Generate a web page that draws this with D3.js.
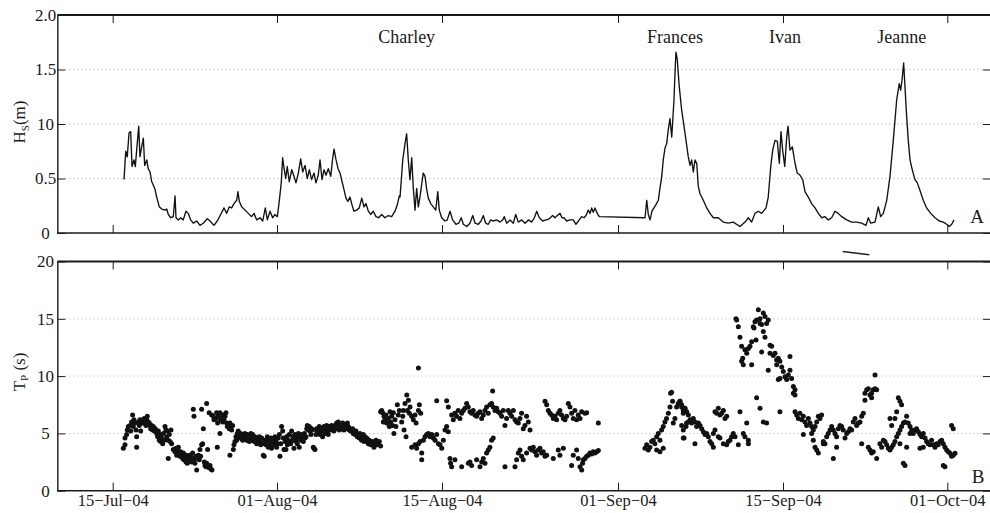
<!DOCTYPE html>
<html>
<head>
<meta charset="utf-8">
<script src="https://cdn.jsdelivr.net/npm/d3@7"></script>
<style>
  body { margin: 0; background: #fff; }
  svg { display: block; font-family: "Liberation Serif", "DejaVu Serif", serif; }
</style>
</head>
<body>
<svg id="chart" width="990" height="513"></svg>
<script>
// days are counted from 30-Jun-2004, so 15 = 15-Jul-04, 32 = 01-Aug-04, 93 = 01-Oct-04
var tickDays = [15, 32, 46, 63, 77, 93];

var hsTicks = [0, 0.5, 1.0, 1.5, 2.0];
var hsTickLabels = ["0", "0.5", "10", "1.5", "2.0"];
var tpTicks = [0, 5, 10, 15, 20];
var tpTickLabels = ["0", "5", "10", "15", "20"];

var stormNames = ["Charley", "Frances", "Ivan", "Jeanne"];
var stormDays = [43.0, 67.84, 77.19, 88.56];

// significant wave height, [day, m]
var hs = [
  [16.17,0.49],[16.35,0.75],[16.51,0.70],[16.69,0.92],[16.86,0.93],[17.00,0.61],[17.20,0.67],[17.34,0.61],
  [17.48,0.76],[17.69,0.98],[17.82,0.70],[18.00,0.79],[18.17,0.87],[18.31,0.62],[18.52,0.67],[18.68,0.59],
  [18.86,0.56],[19.04,0.47],[19.20,0.44],[19.38,0.40],[19.55,0.33],[19.82,0.24],[20.07,0.22],[20.41,0.21],
  [20.59,0.22],[20.75,0.17],[21.00,0.14],[21.27,0.15],[21.45,0.34],[21.55,0.14],[21.79,0.12],[22.04,0.14],
  [22.30,0.12],[22.58,0.20],[22.82,0.18],[23.07,0.12],[23.34,0.09],[23.69,0.11],[24.03,0.07],[24.37,0.09],
  [24.79,0.13],[25.07,0.11],[25.48,0.07],[25.82,0.11],[26.17,0.17],[26.52,0.23],[26.80,0.18],[27.06,0.24],
  [27.31,0.23],[27.55,0.27],[27.83,0.30],[27.96,0.38],[28.10,0.29],[28.35,0.24],[28.69,0.21],[29.03,0.18],
  [29.38,0.15],[29.62,0.18],[29.90,0.12],[30.24,0.14],[30.52,0.11],[30.79,0.23],[31.00,0.12],[31.28,0.20],
  [31.55,0.14],[31.79,0.17],[32.03,0.15],[32.20,0.30],[32.36,0.46],[32.48,0.69],[32.59,0.60],[32.74,0.50],
  [32.87,0.61],[33.04,0.47],[33.25,0.58],[33.44,0.52],[33.61,0.46],[33.81,0.55],[34.01,0.68],[34.18,0.56],
  [34.38,0.62],[34.57,0.50],[34.74,0.58],[34.94,0.49],[35.14,0.55],[35.31,0.46],[35.50,0.53],[35.65,0.67],
  [35.82,0.49],[35.99,0.58],[36.16,0.53],[36.35,0.59],[36.56,0.52],[36.73,0.69],[36.84,0.77],[37.01,0.67],
  [37.18,0.59],[37.35,0.55],[37.52,0.47],[37.68,0.40],[37.85,0.32],[38.02,0.29],[38.19,0.33],[38.36,0.26],
  [38.53,0.20],[38.76,0.21],[38.98,0.23],[39.19,0.32],[39.38,0.24],[39.55,0.27],[39.75,0.20],[39.95,0.17],
  [40.17,0.20],[40.40,0.15],[40.63,0.14],[40.88,0.17],[41.16,0.14],[41.44,0.16],[41.73,0.15],[42.01,0.20],
  [42.21,0.26],[42.38,0.34],[42.44,0.33],[42.67,0.67],[42.86,0.82],[43.00,0.91],[43.14,0.67],[43.28,0.49],
  [43.43,0.69],[43.56,0.42],[43.71,0.21],[43.85,0.41],[43.99,0.24],[44.13,0.33],[44.28,0.45],[44.41,0.55],
  [44.56,0.52],[44.70,0.40],[44.84,0.32],[45.04,0.27],[45.26,0.24],[45.47,0.21],[45.64,0.38],[45.77,0.21],
  [45.97,0.14],[46.29,0.11],[46.51,0.12],[46.77,0.20],[47.03,0.12],[47.35,0.08],[47.61,0.09],[47.86,0.14],
  [48.06,0.08],[48.39,0.06],[48.70,0.09],[48.97,0.16],[49.19,0.09],[49.51,0.08],[49.77,0.11],[49.99,0.16],
  [50.22,0.09],[50.47,0.08],[50.70,0.12],[50.96,0.11],[51.28,0.12],[51.60,0.10],[51.86,0.12],[52.02,0.15],
  [52.25,0.09],[52.57,0.12],[52.89,0.09],[53.12,0.17],[53.37,0.10],[53.70,0.12],[54.02,0.09],[54.34,0.12],
  [54.66,0.10],[54.92,0.14],[55.15,0.20],[55.40,0.14],[55.73,0.11],[56.05,0.12],[56.36,0.13],[56.69,0.16],
  [56.91,0.14],[57.14,0.16],[57.40,0.18],[57.59,0.14],[57.78,0.14],[58.04,0.11],[58.36,0.12],[58.68,0.12],
  [58.94,0.08],[59.26,0.12],[59.49,0.15],[59.72,0.14],[59.91,0.16],[60.13,0.21],[60.30,0.18],[60.46,0.23],
  [60.61,0.19],[60.78,0.23],[61.00,0.18],[61.19,0.15],[65.29,0.14],[65.44,0.30],[65.57,0.17],[65.72,0.12],
  [65.88,0.20],[66.05,0.23],[66.22,0.26],[66.42,0.30],[66.56,0.41],[66.71,0.52],[66.84,0.67],[66.99,0.78],
  [67.13,0.82],[67.27,0.95],[67.41,1.05],[67.56,0.88],[67.75,1.22],[67.86,1.53],[67.92,1.66],[68.03,1.59],
  [68.20,1.34],[68.40,1.13],[68.60,0.98],[68.77,0.85],[68.96,0.70],[69.11,0.62],[69.25,0.67],[69.39,0.56],
  [69.53,0.67],[69.68,0.64],[69.81,0.43],[69.96,0.36],[70.24,0.30],[70.53,0.23],[70.81,0.18],[71.09,0.14],
  [71.51,0.14],[71.93,0.10],[72.36,0.09],[72.78,0.10],[73.35,0.06],[73.78,0.10],[74.06,0.14],[74.34,0.10],
  [74.62,0.18],[74.90,0.20],[75.19,0.18],[75.56,0.23],[75.75,0.33],[75.96,0.61],[76.13,0.76],[76.32,0.85],
  [76.52,0.84],[76.69,0.64],[76.83,0.93],[76.97,0.76],[77.17,0.61],[77.36,0.88],[77.49,0.98],[77.68,0.76],
  [77.91,0.79],[78.17,0.64],[78.39,0.55],[78.66,0.53],[78.92,0.49],[79.14,0.38],[79.46,0.33],[79.79,0.27],
  [80.12,0.23],[80.44,0.18],[80.77,0.14],[81.09,0.15],[81.41,0.12],[81.74,0.14],[82.06,0.20],[82.38,0.18],
  [82.72,0.15],[83.20,0.12],[83.69,0.10],[84.18,0.10],[84.66,0.09],[85.08,0.07],[85.31,0.14],[85.54,0.09],
  [85.96,0.10],[86.28,0.24],[86.51,0.15],[86.77,0.18],[87.10,0.30],[87.42,0.52],[87.74,0.85],[88.07,1.22],
  [88.32,1.37],[88.46,1.31],[88.59,1.40],[88.75,1.56],[88.88,1.34],[89.04,1.07],[89.20,0.85],[89.37,0.67],
  [89.59,0.58],[89.85,0.49],[90.08,0.46],[90.34,0.39],[90.66,0.30],[90.99,0.23],[91.38,0.18],[91.80,0.14],
  [92.22,0.11],[92.61,0.10],[92.94,0.08],[93.19,0.06],[93.43,0.08],[93.65,0.12]
];

// short stray stroke that sits just under panel A in the original
var hsStray = [[82.81,-0.17],[85.40,-0.20]];

// peak period, [day, s]
var tp = [
  [16.10,3.7],[16.27,4.0],[16.27,4.6],[16.44,4.9],[16.51,5.3],[16.62,5.6],[16.79,5.7],[16.86,5.2],[16.96,6.0],
  [17.06,6.6],[17.13,5.6],[17.20,6.2],[17.31,5.9],[17.41,5.3],[17.48,4.7],[17.48,3.8],[17.65,6.0],[17.75,5.7],
  [17.82,6.2],[17.89,5.2],[17.98,5.9],[18.10,6.2],[18.17,5.9],[18.27,6.3],[18.34,6.0],[18.44,5.7],[18.51,6.2],
  [18.58,6.5],[18.69,6.0],[18.79,5.9],[18.86,5.7],[18.93,5.4],[19.03,5.7],[19.13,5.3],[19.20,5.6],[19.31,5.2],
  [19.41,5.4],[19.55,5.0],[19.65,4.7],[19.72,5.2],[19.82,4.4],[19.89,4.9],[19.96,4.3],[20.06,4.6],[20.17,4.1],
  [20.24,5.0],[20.34,4.4],[20.41,5.6],[20.51,5.3],[20.58,4.7],[20.65,5.2],[20.75,4.4],[20.86,4.9],[20.93,4.3],
  [21.03,5.3],[21.10,4.1],[20.75,2.8],
  [21.27,3.6],[21.44,3.4],[21.55,3.7],[21.62,3.1],[21.72,3.6],[21.79,3.8],[21.89,3.3],[21.96,3.0],[22.03,3.4],
  [22.13,3.1],[22.24,2.8],[22.31,3.3],[22.38,2.7],[22.48,3.0],[22.58,2.5],[22.65,3.1],[22.72,2.4],[22.82,2.8],
  [22.93,2.7],[23.00,3.1],[23.10,3.0],[23.17,2.5],[23.27,3.3],[23.34,2.7],[23.44,2.8],[23.51,2.4],[23.62,3.0],
  [23.69,1.8],[23.75,2.8],[23.86,3.1],[23.96,2.7],[24.03,3.6],[24.10,3.0],[24.20,4.0],[24.31,4.1],[24.38,5.4],
  [24.48,2.5],[24.55,2.2],[24.65,2.1],[24.72,2.4],[24.82,3.6],[24.89,2.1],[24.98,2.0],[25.07,2.2],[25.17,1.9],
  [25.27,1.8],
  [23.34,7.1],[23.41,6.5],[24.20,7.1],[24.72,7.6],[24.98,6.8],[25.24,6.6],[25.41,6.5],[25.48,6.2],[25.69,6.3],
  [25.75,6.8],[25.86,5.9],[25.93,6.5],[26.10,6.8],[26.17,6.2],[26.27,6.3],[26.38,6.0],[26.44,6.6],[26.51,6.2],
  [26.62,6.5],[26.72,6.8],[26.79,5.9],[26.86,5.6],[26.96,5.7],[27.06,5.4],[27.13,5.9],[27.20,5.6],[27.31,5.3],
  [27.41,5.7],[25.82,3.8],[26.10,5.0],[27.13,3.1],
  [27.48,3.6],[27.55,4.0],[27.65,4.3],[27.75,4.7],[27.82,4.4],[27.89,5.0],[27.99,5.2],[28.10,4.9],[28.17,4.6],
  [28.23,5.0],[28.34,4.7],[28.44,4.4],[28.51,4.9],[28.61,4.6],[28.68,5.0],[28.79,4.7],[28.86,4.4],[28.92,4.9],
  [29.03,4.6],[29.13,4.3],[29.20,4.7],[29.30,5.0],[29.37,4.4],[29.48,4.9],[29.55,4.6],[29.65,4.3],[29.72,4.7],
  [29.82,4.4],[29.89,4.1],[29.96,4.6],[30.06,4.3],[30.17,4.7],[30.24,4.4],[30.31,4.0],[30.41,4.6],[30.51,4.1],
  [30.58,3.1],[30.68,3.0],[30.75,4.4],[30.86,4.0],[30.93,4.3],[31.00,4.7],[31.10,3.8],[31.20,4.4],[31.27,4.1],
  [31.37,4.6],[31.44,3.7],[31.55,4.3],[31.61,4.0],[31.68,4.4],[31.79,4.7],[31.89,4.3],[31.96,3.8],
  [32.03,4.1],[32.11,4.6],[32.20,4.9],[32.25,3.0],[32.31,4.1],[32.39,5.6],[32.48,5.2],[32.54,4.6],[32.59,3.6],
  [32.68,4.3],[32.76,3.6],[32.82,4.7],[32.88,4.0],[32.96,4.4],[33.04,4.9],[33.10,4.3],[33.16,4.1],[33.24,5.2],
  [33.33,4.7],[33.38,4.4],[33.44,3.7],[33.53,4.9],[33.61,4.3],[33.67,4.6],[33.72,4.1],[33.81,5.0],[33.89,3.8],
  [33.95,4.7],[34.01,4.4],[34.09,4.9],[34.18,4.6],[34.23,4.3],[34.32,5.0],[34.37,4.6],[34.46,4.7],[34.52,5.4],
  [34.57,5.7],[34.66,5.3],[34.74,5.6],[34.80,5.2],[34.88,4.9],[34.94,5.4],[35.02,5.3],[35.08,3.8],[35.14,3.7],
  [35.22,3.6],[35.31,4.9],[35.36,5.4],[35.42,5.2],[35.51,5.3],[35.59,5.6],[35.65,4.9],[35.70,5.2],[35.79,5.4],
  [35.87,4.7],[35.93,5.2],[35.99,5.6],[36.07,5.0],[36.16,5.3],[36.21,5.7],[36.27,5.2],[36.35,4.9],[36.44,5.4],
  [36.50,5.6],[36.55,5.3],[36.64,5.7],[36.72,5.4],[36.78,5.6],[36.83,5.2],[36.92,5.7],[37.00,5.4],[37.06,5.9],
  [37.12,5.6],[37.20,6.0],[37.29,5.3],[37.34,5.6],[37.40,5.7],[37.48,5.4],[37.57,5.9],[37.63,5.6],[37.68,5.3],
  [37.77,5.7],[37.85,5.6],[37.91,5.4],[37.97,5.9],[38.05,5.6],[38.14,5.3],[38.19,5.4],[38.25,5.2],[38.33,5.3],
  [38.42,5.4],[38.47,5.0],[38.53,5.2],[38.62,4.9],[38.70,5.2],[38.76,5.0],[38.81,4.7],[38.90,4.9],[38.98,4.6],
  [39.04,5.0],[39.10,4.7],[39.18,4.4],[39.27,4.6],[39.32,4.9],[39.38,4.3],[39.46,4.7],[39.55,4.4],[39.61,4.6],
  [39.66,4.3],[39.75,4.1],[39.83,4.4],[39.89,4.3],[39.95,4.0],[40.03,4.1],[40.11,4.3],[40.17,4.0],[40.23,3.8],
  [40.31,4.1],[40.40,4.4],[40.45,4.0],[40.54,4.1],[40.68,4.3],[40.79,3.9],
  [40.79,6.9],[40.88,7.0],[40.96,6.8],[41.02,6.0],[41.08,6.5],[41.16,6.2],[41.25,6.6],[41.30,5.9],[41.44,6.3],
  [41.53,5.6],[41.59,6.9],[41.64,6.0],[41.73,6.5],[41.81,5.7],[41.87,6.8],[41.92,5.0],[42.01,6.2],[42.09,5.6],
  [42.21,7.5],[42.29,6.6],[42.38,7.0],
  [44.00,10.7],[43.01,8.35],[42.86,7.6],[43.15,7.9],[43.06,7.0],[43.23,6.75],[43.29,7.3],[43.43,6.5],[43.57,6.2],
  [43.71,6.6],[43.80,5.9],[44.00,7.0],[44.08,7.5],[44.19,6.75],[42.67,6.5],[42.58,6.0],[42.78,5.3],[42.95,4.7],
  [42.72,7.0],
  [43.43,3.8],[43.71,4.0],[43.85,3.7],[44.00,4.1],[44.14,4.3],[44.28,3.3],[44.28,2.7],[44.42,4.4],[44.56,4.7],
  [44.70,4.9],[44.84,5.0],[44.99,4.7],[45.13,4.9],[45.27,4.6],[45.41,4.4],[45.55,4.9],[45.69,4.1],[45.83,4.0],
  [45.98,3.7],[46.13,4.4],[46.29,5.3],[46.45,5.6],[46.61,5.15],[45.55,7.85],[46.45,7.85],[46.61,7.3],
  [46.93,6.6],[47.09,6.2],[47.25,6.75],[47.41,6.5],[47.57,7.0],[47.73,6.3],[47.90,6.75],[48.06,7.0],[48.22,7.2],
  [48.38,7.6],[48.54,7.3],[48.70,6.9],[48.86,6.75],[49.02,7.0],[49.18,6.6],[49.34,6.5],[49.51,6.75],[49.67,6.9],
  [49.83,6.3],[49.99,6.6],[50.15,7.0],[50.31,7.3],[50.47,6.75],[50.63,7.5],[50.79,7.6],[50.89,8.7],[50.95,7.3],
  [51.12,7.0],[51.28,7.2],[51.44,6.9],[51.60,6.75],[51.76,6.5],[51.92,7.0],[52.08,5.7],[52.24,6.3],[52.40,7.0],
  [52.56,6.75],[52.73,6.5],[52.89,7.0],[53.05,6.2],[53.21,6.0],[53.37,5.9],[53.53,6.3],[53.69,6.75],[53.85,5.4],
  [54.01,5.7],[54.17,6.5],[54.34,6.0],[54.50,5.3],
  [46.77,2.8],[46.83,2.4],[46.93,2.1],[47.25,2.7],[47.90,2.1],[48.54,2.4],[48.70,2.5],[48.86,2.2],[49.34,2.7],
  [49.67,2.1],[49.83,2.5],[49.99,2.8],[50.15,2.4],[50.31,3.3],[50.47,3.55],[50.63,3.8],[50.79,4.4],[50.95,4.6],
  [52.08,2.1],[53.05,2.1],[53.21,2.7],[53.37,3.3],[53.53,3.55],[53.69,3.0],[53.85,2.7],[54.17,3.3],[54.50,3.7],
  [54.66,3.55],[54.82,3.8],[54.98,3.4],[55.14,3.1],[55.30,3.55],[55.46,3.7],[55.62,3.3],[55.78,3.4],[55.95,3.0],
  [56.11,3.1],[56.75,2.8],[57.23,3.55],[57.39,3.1],[57.72,3.7],[58.52,2.2],[58.68,3.1],[59.00,3.55],[59.16,2.8],
  [59.33,2.1],[59.49,1.8],[59.58,2.4],[59.65,2.7],[59.81,2.8],[59.97,3.0],[60.13,3.1],[60.29,3.3],[60.45,3.2],
  [60.61,3.4],[60.77,3.3],[60.94,3.4],[61.10,3.5],
  [55.95,7.8],[56.11,7.5],[56.27,7.0],[56.43,6.75],[56.59,6.6],[56.75,6.3],[56.91,6.5],[57.07,6.2],[57.23,6.75],
  [57.39,7.0],[57.55,6.6],[57.72,6.3],[57.88,6.2],[58.04,6.5],[58.20,7.6],[58.36,7.3],[58.52,6.75],[58.68,6.3],
  [58.84,7.0],[59.00,6.2],[59.16,6.6],[59.33,6.3],[59.49,6.9],[59.81,6.75],[59.97,6.8],[61.10,5.9],
  [65.29,3.7],[65.43,4.0],[65.57,3.55],[65.71,3.8],[65.85,4.3],[65.99,4.4],[66.13,4.1],[66.28,4.7],[66.42,5.0],
  [66.56,4.4],[66.70,5.3],[66.84,5.6],[66.98,6.0],[67.12,6.3],[67.27,6.75],[67.41,7.3],[67.46,8.5],[67.55,8.6],
  [67.63,7.8],[67.69,5.9],[67.83,6.3],[67.97,7.3],[68.11,7.6],[68.26,7.8],[68.40,7.3],[68.54,6.75],[68.68,7.2],
  [68.82,5.9],[68.54,4.6],[66.84,3.7],[66.56,3.4],[66.28,3.55],
  [68.26,7.8],[68.40,7.5],[68.54,7.0],[68.68,7.2],[68.83,6.9],[68.97,6.6],[68.40,5.7],[68.54,5.3],[68.60,4.6],
  [68.77,5.6],[68.97,6.0],[69.11,6.2],[69.25,5.9],[69.39,6.3],[69.53,6.0],[69.67,5.6],[69.82,5.9],[69.53,4.1],
  [69.96,5.7],[70.10,5.4],[70.24,5.15],[70.38,4.9],[70.52,5.0],[70.66,4.7],[70.81,4.3],[70.95,4.1],[71.09,3.8],
  [71.09,5.0],[71.23,5.3],[71.23,6.9],[71.37,6.75],[71.51,7.2],[71.65,6.6],[71.80,6.75],[71.94,7.0],[72.08,6.3],
  [72.22,6.5],[71.51,4.7],[71.65,4.6],[71.94,4.1],[72.22,4.0],[72.36,4.3],[72.50,4.4],[72.64,4.7],[72.78,5.0],
  [72.93,4.7],[73.21,4.0],[73.35,6.9],[73.63,5.0],[73.77,4.7],[73.92,5.9],[74.06,4.4],[74.06,4.1],
  [73.01,15.0],[73.07,14.9],[73.21,14.3],[73.35,13.4],[73.49,12.6],[73.49,11.3],[73.63,11.0],[73.58,11.55],
  [73.77,12.3],[73.92,12.0],[74.06,12.4],[74.20,12.6],[74.34,11.0],[74.34,13.0],[74.48,14.3],[74.54,14.2],
  [74.62,14.75],[74.71,13.15],[74.76,14.9],[74.91,15.8],[75.05,15.0],[75.05,14.6],[75.19,14.5],[75.19,12.1],
  [75.33,15.5],[75.33,13.9],[75.47,13.4],[75.47,15.2],[75.61,14.6],[75.75,14.9],[75.90,12.7],[75.90,12.0],
  [75.75,10.5],[76.04,12.6],[76.18,11.8],[76.32,12.0],[76.46,11.4],[76.60,11.55],[76.74,11.3],[76.46,11.0],
  [76.89,10.8],[77.03,10.4],[77.19,9.95],[77.36,9.7],[77.52,10.1],[77.68,10.5],[77.68,11.7],[77.84,9.8],
  [78.01,9.1],[78.17,8.8],[78.01,8.5],[78.17,8.35],[76.60,9.7],[76.74,9.8],[74.76,8.1],[75.05,7.2],[75.33,6.0],
  [75.61,5.9],[76.74,6.9],
  [78.17,6.9],[78.33,6.6],[78.49,6.3],[78.65,6.75],[78.82,6.2],[78.98,6.5],[79.14,6.0],[79.30,5.7],[79.47,6.3],
  [79.63,5.9],[79.79,5.6],[79.95,5.3],[80.12,5.6],[80.28,6.0],[80.44,6.5],[80.60,6.3],[80.76,6.6],[78.98,4.9],
  [79.79,5.0],[79.95,4.4],[80.12,3.8],[80.28,3.55],[80.44,3.3],
  [80.93,4.3],[81.09,4.1],[81.25,4.7],[81.41,5.0],[81.58,5.3],[81.74,5.6],[81.90,5.3],[82.06,5.0],[82.22,4.7],
  [82.39,5.4],[82.55,5.7],[82.71,5.6],[82.87,5.3],[83.04,4.6],[83.20,5.0],[83.36,5.15],[83.52,5.4],[83.68,5.3],
  [83.85,6.0],[84.01,6.3],[84.17,5.7],[84.33,5.9],[84.50,6.0],[84.66,6.5],[84.82,6.75],[84.66,4.1],[81.90,2.8],
  [80.93,4.1],[82.22,3.8],
  [84.98,8.5],[85.15,8.8],[85.31,8.9],[85.47,8.35],[85.63,8.5],[85.79,8.8],[85.96,8.9],[86.12,8.8],[85.96,10.1],
  [85.63,8.1],[84.98,7.9],
  [85.31,3.8],[85.47,3.55],[85.63,3.3],[85.79,3.4],[86.12,2.8],[86.44,4.1],[86.61,3.8],[86.77,4.4],[86.93,4.3],
  [87.09,4.0],[87.26,3.7],[87.42,3.55],[87.58,3.8],[87.74,4.0],[87.90,4.3],[88.07,4.7],[88.23,5.0],[88.39,5.3],
  [88.55,5.6],[88.72,5.9],[88.88,6.0],[89.04,6.5],[88.23,8.1],[88.39,7.8],[88.55,7.5],[88.07,6.9],[87.90,6.3],
  [87.58,5.7],[87.42,6.3],[88.39,4.1],[88.72,2.4],[88.88,2.2],[89.04,3.8],
  [89.20,5.9],[89.37,5.0],[89.53,5.3],[89.69,5.0],[89.85,5.3],[90.01,5.4],[90.18,5.15],[90.34,4.9],[90.50,4.7],
  [90.66,5.0],[90.83,4.6],[90.99,4.3],[91.15,4.1],[91.31,4.0],[91.47,4.4],[91.64,4.0],[91.80,3.8],[91.96,4.1],
  [92.12,4.0],[92.29,4.3],[92.45,4.4],[92.61,4.1],[92.77,3.8],[92.94,3.55],[93.10,3.4],[93.26,3.26],[93.42,3.0],
  [93.58,3.1],[93.75,3.26],[92.61,2.2],[92.77,2.1],[93.42,5.7],[93.58,5.4],[90.34,3.7],[90.66,3.8],[89.37,5.6]
];

var svg = d3.select("#chart");
var L = 57.3, R = 991;
var ink = "#1a1a1a";

// tick dates are not evenly spaced in the original, so the day axis is piecewise
var x = d3.scaleLinear()
    .domain(tickDays)
    .range([112.7, 277, 442, 618, 783, 947.3]);

var yA = d3.scaleLinear().domain([0, 2]).range([233, 15]);
var yB = d3.scaleLinear().domain([0, 20]).range([490.7, 261.5]);

var fmt = d3.timeFormat("%d-%b-%y");
function dayLabel(d) {
    return fmt(new Date(2004, 5, 30 + d)).replace(/-/g, "\u2212");
}

function drawFrame(y, ticks, labels, showDates) {
    var g = svg.append("g");
    var yBot = y.range()[0], yTop = y.range()[1];
    var top = y.domain()[1];

    g.selectAll("line.grid")
        .data(ticks.filter(function (t) { return t > 0 && t < top; }))
        .enter().append("line")
        .attr("class", "grid")
        .attr("x1", L + 8).attr("x2", R - 8)
        .attr("y1", function (d) { return y(d); })
        .attr("y2", function (d) { return y(d); })
        .attr("stroke", "#b0b0b0")
        .attr("stroke-width", 1)
        .attr("stroke-dasharray", "1,3");

    var left = g.append("g")
        .attr("transform", "translate(" + L + ",0)")
        .attr("color", ink)
        .call(d3.axisLeft(y).tickValues(ticks)
            .tickFormat(function (d, i) { return labels[i]; })
            .tickSizeInner(-8).tickSizeOuter(0).tickPadding(0));
    left.selectAll("text")
        .attr("x", 45.5 - L)
        .attr("text-anchor", "middle")
        .attr("font-family", "Liberation Serif")
        .attr("font-size", 17);
    left.select(".domain").attr("stroke-width", 1.4);

    g.append("g")
        .attr("transform", "translate(" + R + ",0)")
        .attr("color", ink)
        .call(d3.axisRight(y).tickValues(ticks).tickFormat("")
            .tickSizeInner(-8).tickSizeOuter(0))
        .select(".domain").remove();

    var bottom = g.append("g")
        .attr("transform", "translate(0," + yBot + ")")
        .attr("color", ink)
        .call(d3.axisBottom(x).tickValues(tickDays)
            .tickFormat(showDates ? dayLabel : "")
            .tickSizeInner(-8).tickSizeOuter(0).tickPadding(4));
    bottom.select(".domain").remove();
    bottom.selectAll("text")
        .attr("font-family", "Liberation Serif")
        .attr("font-size", 16.5);

    g.append("g")
        .attr("transform", "translate(0," + yTop + ")")
        .attr("color", ink)
        .call(d3.axisTop(x).tickValues(tickDays).tickFormat("")
            .tickSizeInner(-8).tickSizeOuter(0))
        .select(".domain").remove();

    // frame top and bottom edges over the full width
    [yTop, yBot].forEach(function (yy, i) {
        g.append("line")
            .attr("x1", L).attr("x2", R)
            .attr("y1", yy).attr("y2", yy)
            .attr("stroke", ink)
            .attr("stroke-width", i === 0 ? 1.8 : 1.5);
    });
}

drawFrame(yA, hsTicks, hsTickLabels, false);
drawFrame(yB, tpTicks, tpTickLabels, true);

// panel A: wave height line
var line = d3.line()
    .x(function (d) { return x(d[0]); })
    .y(function (d) { return yA(d[1]); });

svg.append("path")
    .datum(hs)
    .attr("d", line)
    .attr("fill", "none")
    .attr("stroke", "#111")
    .attr("stroke-width", 1.35)
    .attr("stroke-linejoin", "round");

svg.append("path")
    .datum(hsStray)
    .attr("d", line)
    .attr("fill", "none")
    .attr("stroke", "#222")
    .attr("stroke-width", 1.6);

// storm names
svg.selectAll("text.storm")
    .data(stormNames)
    .enter().append("text")
    .attr("class", "storm")
    .attr("x", function (d, i) { return x(stormDays[i]); })
    .attr("y", 43)
    .attr("text-anchor", "middle")
    .attr("font-size", 18)
    .attr("fill", ink)
    .text(function (d) { return d; });

// panel B: peak period dots
svg.append("g")
    .selectAll("circle")
    .data(tp)
    .enter().append("circle")
    .attr("cx", function (d) { return x(d[0]); })
    .attr("cy", function (d) { return yB(d[1]); })
    .attr("r", 2.5)
    .attr("fill", "#111");

// panel letters
svg.append("text").attr("x", 977).attr("y", 223).attr("text-anchor", "middle")
    .attr("font-size", 19).attr("fill", ink).text("A");
svg.append("text").attr("x", 978).attr("y", 483).attr("text-anchor", "middle")
    .attr("font-size", 19).attr("fill", ink).text("B");

// axis titles
var hsTitle = svg.append("text")
    .attr("transform", "translate(25,122) rotate(-90)")
    .attr("text-anchor", "middle")
    .attr("font-size", 17)
    .attr("fill", ink);
hsTitle.append("tspan").text("H");
hsTitle.append("tspan").attr("font-size", 11).attr("dy", 4).text("S");
hsTitle.append("tspan").attr("dy", -4).text("(m)");

var tpTitle = svg.append("text")
    .attr("transform", "translate(25,372) rotate(-90)")
    .attr("text-anchor", "middle")
    .attr("font-size", 17)
    .attr("fill", ink);
tpTitle.append("tspan").text("T");
tpTitle.append("tspan").attr("font-size", 11).attr("dy", 3).text("P");
tpTitle.append("tspan").attr("dy", -3).text(" (s)");
</script>
</body>
</html>
